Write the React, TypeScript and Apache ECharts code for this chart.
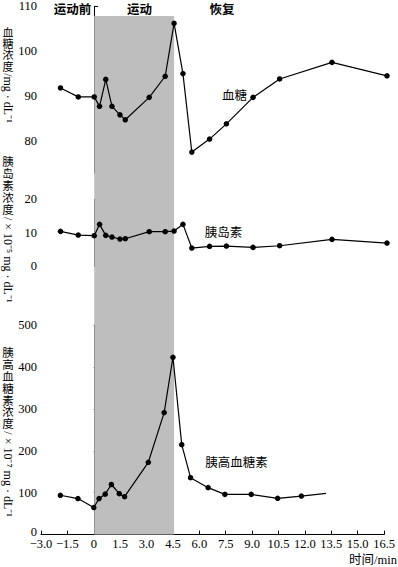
import React, { useEffect, useRef } from "react";
import * as echarts from "echarts";

// ---- data ----
const sampleTime = [-1.9, -0.9, 0, 0.3, 0.65, 1.0, 1.45, 1.75, 3.1, 4.0, 4.5, 5.0, 5.5, 6.5, 7.45, 8.95, 10.45, 13.4, 16.5];
const glucose = [91.8, 89.8, 89.8, 87.7, 93.7, 87.7, 85.8, 84.7, 89.7, 94.4, 106.2, 95.0, 77.5, 80.4, 83.8, 89.7, 93.8, 97.5, 94.5];
const insulin = [10.4, 9.3, 9.1, 12.5, 9.2, 8.7, 8.1, 8.2, 10.3, 10.3, 10.5, 12.5, 5.4, 5.9, 6.0, 5.6, 6.1, 8.0, 6.9];
const glucagonTime = [-1.9, -0.9, 0, 0.3, 0.65, 1.0, 1.45, 1.75, 3.1, 4.0, 4.5, 5.0, 5.5, 6.5, 7.45, 8.95, 10.45, 11.8, 13.2];
const glucagon = [93.8, 86, 64.5, 86, 96.5, 119.5, 97.6, 90.5, 172.5, 291, 423, 214.6, 135.8, 112, 96, 96, 86.6, 92, 98.5];
const glucagonMarker = [1, 1, 1, 1, 1, 1, 1, 1, 1, 1, 1, 1, 1, 1, 1, 1, 1, 1, 0];
const exerciseWindow = [0, 4.5];
const phaseLabels = ["运动前", "运动", "恢复"];
const seriesNames = ["血糖", "胰岛素", "胰高血糖素"];
const glucoseTicks = [80, 90, 100, 110];
const xRange = [-3, 16.5];

const SERIF = "'Liberation Serif', 'Noto Sans CJK SC', serif";
const CJK = "'Noto Sans CJK SC', sans-serif";

function fmtX(v: number) {
  if (v === 0) return "0";
  const s = Math.abs(v).toFixed(1);
  return v < 0 ? "\u2212" + s : s;
}

export default function App() {
  const ref = useRef<HTMLDivElement>(null);
  useEffect(() => {
    document.body.style.margin = "0";
    const chart = echarts.init(ref.current!, undefined, { renderer: "svg" });
    const W = 398;
    const left = 41;
    const right = 11;

    const yAxisBase = (extra: any) => ({
      type: "value",
      splitLine: { show: false },
      axisLine: { show: true, lineStyle: { color: "#000", width: 1 } },
      axisTick: { show: true, inside: true, length: 4, lineStyle: { color: "#000" } },
      axisLabel: { color: "#000", fontFamily: SERIF, fontSize: 12.5, margin: 4 },
      ...extra,
    });
    const hiddenX = (gi: number) => ({
      type: "value",
      gridIndex: gi,
      min: xRange[0],
      max: xRange[1],
      show: false,
    });
    const lineSeries = (xi: number, data: any[]) => ({
      type: "line",
      xAxisIndex: xi,
      yAxisIndex: xi,
      data,
      symbol: "circle",
      symbolSize: 5.5,
      showAllSymbol: true,
      itemStyle: { color: "#000" },
      lineStyle: { color: "#000", width: 1.2 },
      z: 3,
    });

    const vName = (x: number, y: number, chars: string, rot: string, pitch: number, fs: number) => [
      {
        type: "text",
        x,
        y,
        style: {
          text: chars.split("").join("\n"),
          fontFamily: CJK,
          fontSize: fs,
          lineHeight: pitch,
          textAlign: "center",
          textVerticalAlign: "top",
          fill: "#000",
        },
      },
      {
        type: "text",
        x,
        y: y + chars.length * pitch + 2,
        rotation: -Math.PI / 2,
        style: {
          text: rot,
          fontFamily: SERIF,
          fontSize: 12,
          textAlign: "left",
          textVerticalAlign: "middle",
          fill: "#000",
        },
      },
    ];

    const txt = (x: number, y: number, text: string, extra: any = {}) => ({
      type: "text",
      x,
      y,
      style: {
        text,
        fontFamily: CJK,
        fontSize: 12.5,
        textAlign: "center",
        textVerticalAlign: "middle",
        fill: "#000",
        ...extra,
      },
    });

    chart.setOption({
      animation: false,
      backgroundColor: "#fff",
      grid: [
        { left, right, top: 5.7, height: 167.5 },
        { left, right, top: 199.3, height: 66.8 },
        { left, right, top: 325, bottom: 32.4 },
        { left, right, top: 16, bottom: 32.4 },
      ],
      xAxis: [
        hiddenX(0),
        hiddenX(1),
        {
          type: "value",
          gridIndex: 2,
          min: xRange[0],
          max: xRange[1],
          interval: 1.5,
          splitLine: { show: false },
          axisLine: { show: true, onZero: false, lineStyle: { color: "#000", width: 1 } },
          axisTick: { show: true, inside: true, length: 4, lineStyle: { color: "#000" } },
          axisLabel: { color: "#000", fontFamily: SERIF, fontSize: 12.5, margin: 3, interval: 0, formatter: fmtX },
        },
        hiddenX(3),
      ],
      yAxis: [
        yAxisBase({
          gridIndex: 0,
          min: 72.8,
          max: 110,
          axisLabel: { color: "#000", fontFamily: SERIF, fontSize: 12.5, margin: 4, customValues: glucoseTicks },
          axisTick: { show: true, inside: true, length: 4, lineStyle: { color: "#000" }, customValues: glucoseTicks },
        }),
        yAxisBase({ gridIndex: 1, min: 0, max: 20, interval: 10 }),
        yAxisBase({
          gridIndex: 2,
          min: 0,
          max: 500,
          interval: 100,
          axisLabel: {
            color: "#000",
            fontFamily: SERIF,
            fontSize: 12.5,
            margin: 4,
            formatter: (v: number) => (v === 0 ? "{z|0}" : String(v)),
            rich: { z: { fontFamily: SERIF, fontSize: 12.5, color: "#000", padding: [0, 0, 5, 0] } },
          },
        }),
        { type: "value", gridIndex: 3, min: 0, max: 1, show: false },
      ],
      series: [
        {
          type: "line",
          xAxisIndex: 3,
          yAxisIndex: 3,
          data: [],
          z: 0,
          silent: true,
          markArea: {
            silent: true,
            itemStyle: { color: "#bebebe" },
            data: [[{ xAxis: exerciseWindow[0] }, { xAxis: exerciseWindow[1] }]],
          },
        },
        lineSeries(0, sampleTime.map((t, i) => [t, glucose[i]])),
        lineSeries(1, sampleTime.map((t, i) => [t, insulin[i]])),
        lineSeries(
          2,
          glucagonTime.map((t, i) =>
            glucagonMarker[i] ? [t, glucagon[i]] : { value: [t, glucagon[i]], symbol: "none" }
          )
        ),
      ],
      graphic: [
        txt(72.5, 8.5, phaseLabels[0], { fontWeight: "bold" }),
        txt(139.5, 8.5, phaseLabels[1], { fontWeight: "bold" }),
        txt(222, 8.5, phaseLabels[2], { fontWeight: "bold" }),
        txt(234.5, 94.5, seriesNames[0]),
        txt(223.5, 231.5, seriesNames[1]),
        txt(236.5, 461.5, seriesNames[2]),
        txt(W - 1, 560, "时间/min", { textAlign: "right", fontFamily: SERIF }),
        ...vName(8, 26, "血糖浓度", "/mg \u00b7 dL\u207b\u00b9", 11.3, 11),
        ...vName(8, 155, "胰岛素浓度", "/ \u00d7 10\u207b\u2075 mg \u00b7 dL\u207b\u00b9", 12, 11.5),
        ...vName(8, 346, "胰高血糖素浓度", "/ \u00d7 10\u207b\u2077 mg \u00b7 dL\u207b\u00b9", 11.9, 11.5),
      ],
    });
    return () => chart.dispose();
  }, []);
  return <div ref={ref} style={{ width: 398, height: 567 }} />;
}
